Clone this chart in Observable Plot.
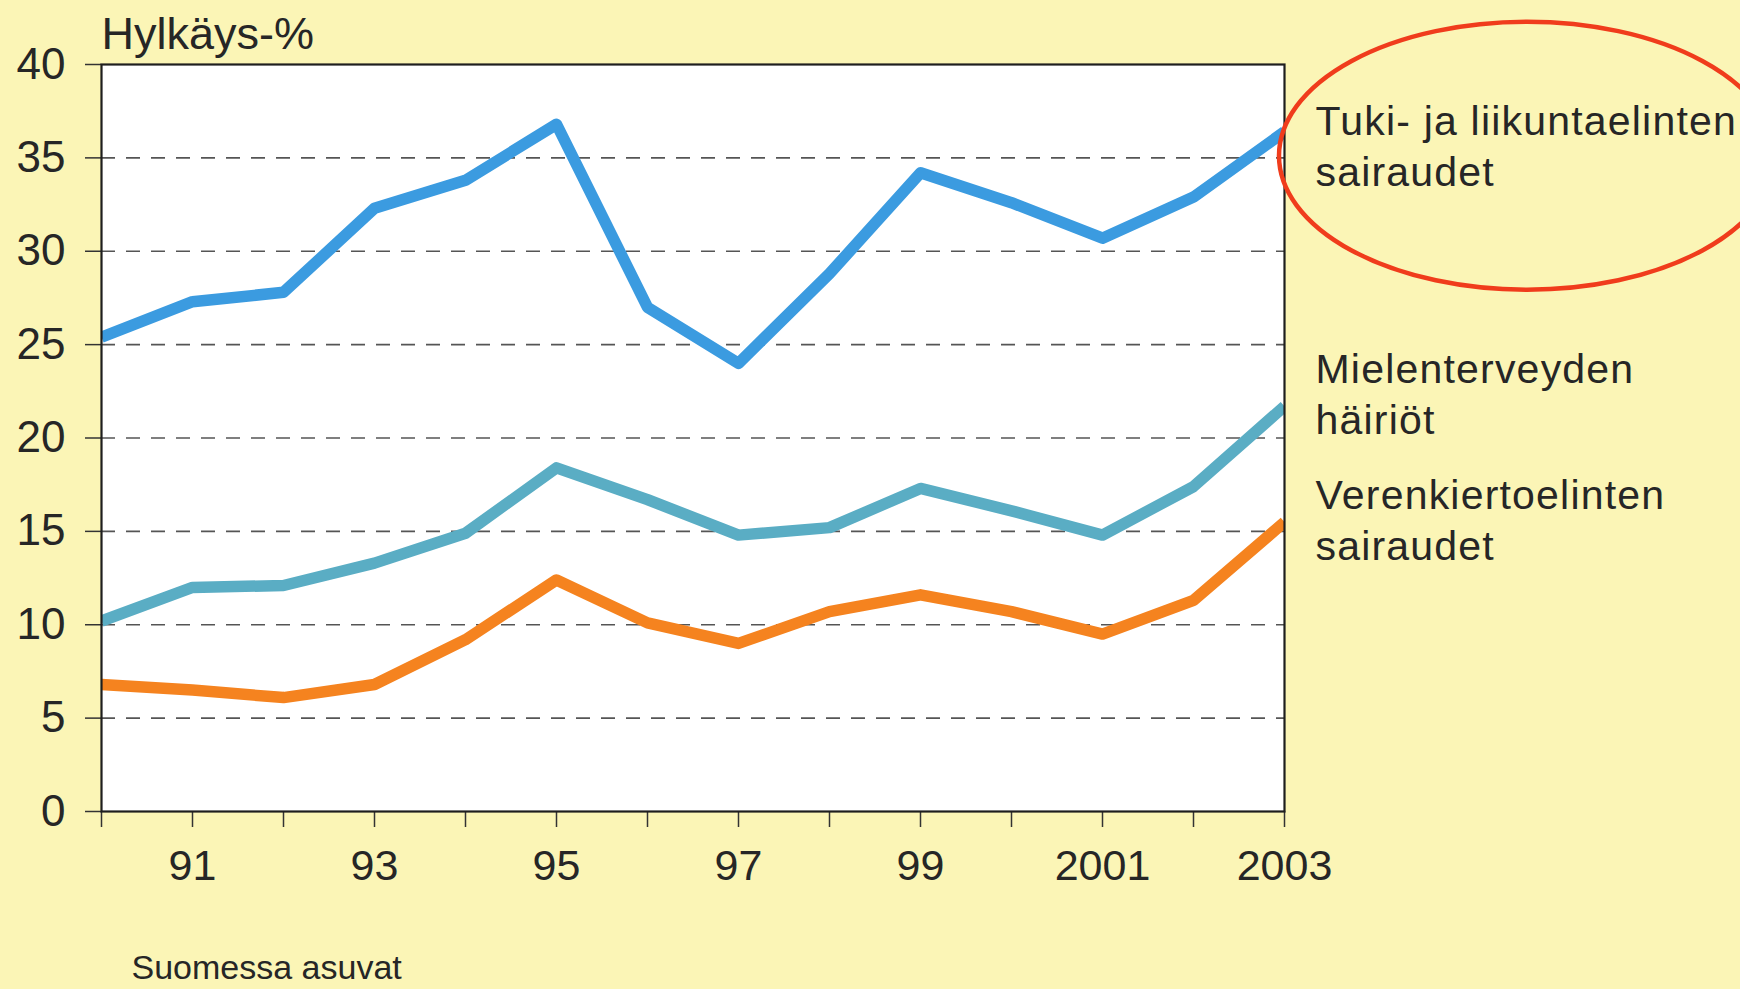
<!DOCTYPE html>
<html><head><meta charset="utf-8">
<script src="https://cdn.jsdelivr.net/npm/d3@7"></script>
<script src="https://cdn.jsdelivr.net/npm/@observablehq/plot@0.6"></script>
<style>
html,body{margin:0;padding:0;background:#fbf5b6;}
#chart{width:1740px;height:989px;overflow:hidden;}
</style></head><body><div id="chart"></div>
<script>
// ---- data ----
const years = [1990,1991,1992,1993,1994,1995,1996,1997,1998,1999,2000,2001,2002,2003];
const labelYears = [1991,1993,1995,1997,1999,2001,2003];
const yTicks = [0,5,10,15,20,25,30,35,40];
const tuki  = [25.4,27.3,27.8,32.3,33.8,36.8,27.0,24.0,28.8,34.2,32.6,30.7,32.9,36.4];
const mieli = [10.2,12.0,12.1,13.3,14.9,18.4,16.7,14.8,15.2,17.3,16.1,14.8,17.4,21.7];
const veren = [6.8,6.5,6.1,6.8,9.2,12.4,10.1,9.0,10.7,11.6,10.7,9.5,11.3,15.5];
const seriesKeys = ["tuki","mieli","veren"];
const seriesLabels = ["Tuki- ja liikuntaelinten\nsairaudet","Mielenterveyden\nhäiriöt","Verenkiertoelinten\nsairaudet"];
const seriesColors = ["#3b9be0","#5aadc4","#f5831f"];
const title = "Hylkäys-%";
const caption = "Suomessa asuvat";

const rows = (vals, key) => years.map((year, i) => ({year, value: vals[i], series: key}));
const data = [...rows(tuki,"tuki"), ...rows(mieli,"mieli"), ...rows(veren,"veren")];
const lastOf = key => data.filter(d => d.series === key).slice(-1).map(d => ({...d, label: seriesLabels[seriesKeys.indexOf(key)]}));

const font = "'Liberation Sans', Arial, Helvetica, sans-serif";
const ink = "#262626";

const legendText = (key, dy) => Plot.text(lastOf(key), {
  x: "year", y: "value", text: "label", dx: 31, dy,
  textAnchor: "start", lineAnchor: "middle", lineHeight: 1.24, fontSize: 41, fill: ink
});

const plot = Plot.plot({
  width: 1740, height: 989,
  marginLeft: 101, marginRight: 456, marginTop: 64, marginBottom: 178,
  style: {background: "transparent", fontFamily: font, color: ink},
  x: {domain: [1990, 2003], label: null},
  y: {domain: [0, 40], label: null},
  color: {domain: seriesKeys, range: seriesColors},
  marks: [
    Plot.frame({fill: "white", stroke: null}),
    Plot.gridY({ticks: yTicks.filter(d => d > 0 && d < 40), stroke: "#555", strokeOpacity: 1, strokeWidth: 1.6, strokeDasharray: "14,11"}),
    Plot.axisY({ticks: yTicks, tickSize: 16, tickPadding: 20, fontSize: 44, stroke: "#333", strokeWidth: 1.5, tickFormat: d => String(d)}),
    Plot.axisX({ticks: years, tickSize: 16, strokeWidth: 1.5, stroke: "#333", tickFormat: () => ""}),
    Plot.axisX({ticks: labelYears, tickSize: 0, tickPadding: 38, fontSize: 43, tickFormat: d => d >= 2000 ? String(d) : String(d).slice(2)}),
    Plot.lineY(data, {x: "year", y: "value", z: "series", stroke: "series", strokeWidth: 11.5,
      strokeLinejoin: "round", strokeLinecap: "butt", clip: true}),
    Plot.frame({stroke: "#1e1e1e", strokeWidth: 2.2}),
    legendText("tuki", 12.5),
    legendText("mieli", -14),
    legendText("veren", -3.5),
    Plot.text([title], {text: d => d, frameAnchor: "top-left", dx: 0, dy: -30, textAnchor: "start", lineAnchor: "middle", fontSize: 45, fill: ink}),
    Plot.text([caption], {text: d => d, frameAnchor: "bottom-left", dx: 30, dy: 157, textAnchor: "start", lineAnchor: "middle", fontSize: 34, fill: ink})
  ]
});

// slightly wider tracking on the series labels, as in the original
d3.select(plot).selectAll("text")
  .filter(function() { return seriesLabels.some(l => this.textContent === l.replace("\n", "")); })
  .style("letter-spacing", "1.2px");

// red highlight ellipse around the first series label
const xs = plot.scale("x"), ys = plot.scale("y");
const tukiEnd = lastOf("tuki")[0];
d3.select(plot).append("ellipse")
  .attr("cx", xs.apply(tukiEnd.year) + 243)
  .attr("cy", ys.apply(tukiEnd.value) + 24.5)
  .attr("rx", 248).attr("ry", 134)
  .attr("fill", "none").attr("stroke", "#f03c1c").attr("stroke-width", 4.5);

document.getElementById("chart").append(plot);
</script>
</body></html>
